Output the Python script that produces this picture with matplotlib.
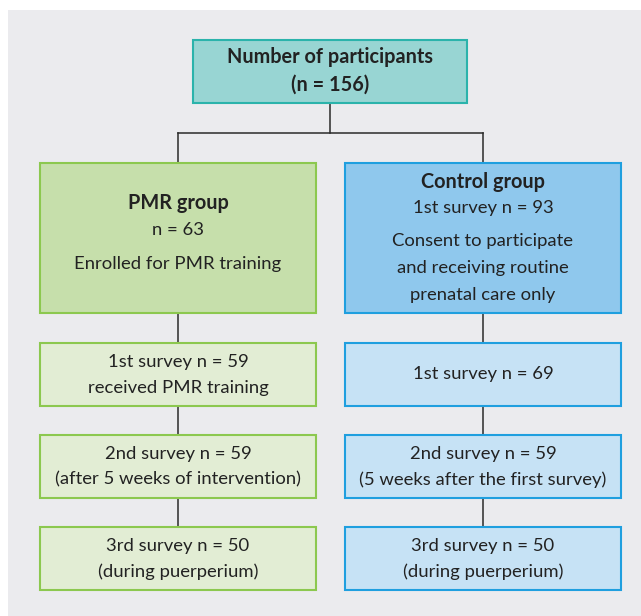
import matplotlib.pyplot as plt
from matplotlib.patches import Rectangle

plt.rcParams['font.family'] = ['Lato', 'DejaVu Sans']

# text content
top_lines = ['Number of participants', '(n = 156)']
pmr_head = ['PMR group', 'n = 63', 'Enrolled for PMR training']
ctrl_head = ['Control group', '1st survey n = 93', 'Consent to participate',
             'and receiving routine', 'prenatal care only']
pmr_surveys = [['1st survey n = 59', 'received PMR training'],
               ['2nd survey n = 59', '(after 5 weeks of intervention)'],
               ['3rd survey n = 50', '(during puerperium)']]
ctrl_surveys = [['1st survey n = 69'],
                ['2nd survey n = 59', '(5 weeks after the first survey)'],
                ['3rd survey n = 50', '(during puerperium)']]

TXT = '#222222'
LINE = '#2a2a2a'
FS = 13.3
FS_B = 14.3

fig = plt.figure(figsize=(6.41, 6.16), dpi=100)
ax = fig.add_axes([0, 0, 1, 1])
ax.set_xlim(0, 641)
ax.set_ylim(616, 0)
ax.axis('off')

ax.add_patch(Rectangle((8, 10), 640, 610, facecolor='#ebebee', edgecolor='none'))


def box(x0, y0, x1, y1, fc, ec):
    ax.add_patch(Rectangle((x0, y0), x1 - x0, y1 - y0, facecolor=fc,
                           edgecolor=ec, linewidth=1.5, zorder=3))


def lines_in(xc, ys, texts, n_bold=0):
    for i, (y, t) in enumerate(zip(ys, texts)):
        bold = i < n_bold
        ax.text(xc, y, t, ha='center', va='center', fontsize=FS_B if bold else FS,
                color=TXT, fontweight='bold' if bold else 'normal', zorder=4)


# connectors
ax.plot([330, 330], [103, 133], color=LINE, lw=1.1, zorder=1)
ax.plot([178, 483], [133, 133], color=LINE, lw=1.1, zorder=1)
for xc in (178, 483):
    ax.plot([xc, xc], [133, 527], color=LINE, lw=1.1, zorder=1)

# top box
box(193, 40, 467, 103, '#98d5d3', '#2bb3ab')
lines_in(330, [57, 85], top_lines, n_bold=2)

# group boxes
box(40, 163, 316, 313, '#c6dfab', '#8cc84f')
lines_in(178, [203, 230, 264], pmr_head, n_bold=1)
box(345, 163, 621, 313, '#8fc8ed', '#1f9fdf')
lines_in(483, [182, 208, 241, 268, 295], ctrl_head, n_bold=1)

# survey boxes
rows = [(343, 406), (435, 498), (527, 590)]
for (y0, y1), pt, ct in zip(rows, pmr_surveys, ctrl_surveys):
    box(40, y0, 316, y1, '#e2edd4', '#8cc84f')
    box(345, y0, 621, y1, '#c6e2f5', '#1f9fdf')
    ym = (y0 + y1) / 2
    for xc, t in ((178, pt), (483, ct)):
        if len(t) == 2:
            lines_in(xc, [ym - 13, ym + 13], t)
        else:
            lines_in(xc, [ym], t)

fig.savefig('out.png', dpi=100)
